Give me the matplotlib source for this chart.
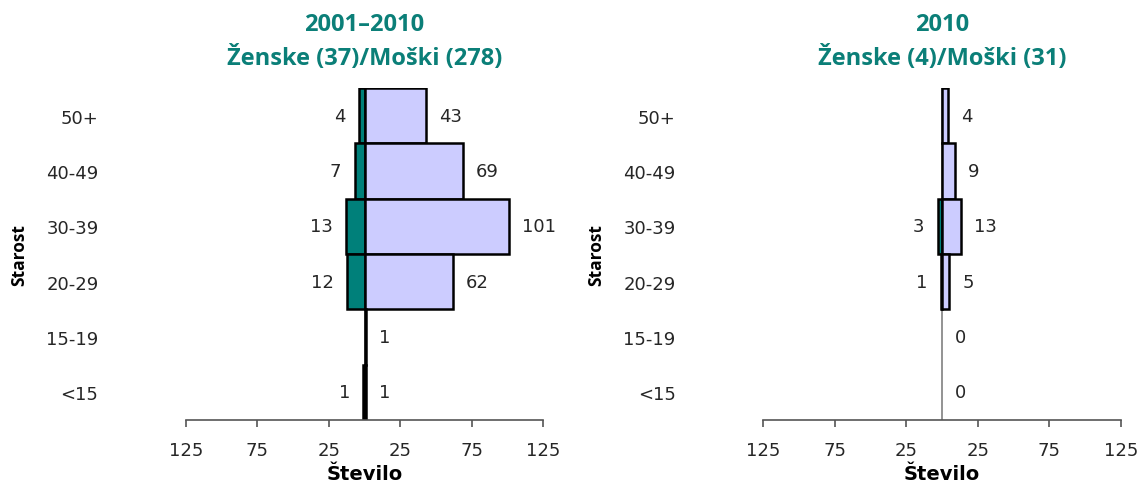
import matplotlib
matplotlib.use("Agg")
import matplotlib.pyplot as plt
import numpy as np

# Age groups, top to bottom
age_groups = ["50+", "40-49", "30-39", "20-29", "15-19", "<15"]

# 2001–2010 counts
women_2001_2010 = [4, 7, 13, 12, 0, 1]
men_2001_2010 = [43, 69, 101, 62, 1, 1]

# 2010 counts
women_2010 = [0, 0, 3, 1, 0, 0]
men_2010 = [4, 9, 13, 5, 0, 0]

titles = ["2001\u20132010\n\u017denske (37)/Mo\u0161ki (278)",
          "2010\n\u017denske (4)/Mo\u0161ki (31)"]

tick_values = [-125, -75, -25, 25, 75, 125]
tick_labels = ["125", "75", "25", "25", "75", "125"]

TEAL = "#00807A"
LAVENDER = "#CCCCFF"
TITLE_COLOR = "#0B7F78"
TEXT_COLOR = "#262626"

W, H = 1141, 485
fig = plt.figure(figsize=(W / 100, H / 100), dpi=100)

panels = [
    (186, 543, women_2001_2010, men_2001_2010, titles[0]),
    (763, 1121, women_2010, men_2010, titles[1]),
]

y = np.arange(len(age_groups))[::-1]
ax_top, ax_bottom = 89, 421
FS = 13

for i, (x0, x1, women, men, title) in enumerate(panels):
    ax = fig.add_axes([x0 / W, 1 - ax_bottom / H, (x1 - x0) / W, (ax_bottom - ax_top) / H])
    ax.set_xlim(-125, 125)
    ax.set_ylim(-0.5, len(age_groups) - 0.5)

    # centre line
    ax.axvline(0, color="#808080", lw=1.2, zorder=1)

    w = np.array(women)
    m = np.array(men)
    wm = w > 0
    mm = m > 0
    ax.barh(y[wm], -w[wm], height=1.0, color=TEAL, edgecolor="black", lw=1.8, zorder=2)
    ax.barh(y[mm], m[mm], height=1.0, color=LAVENDER, edgecolor="black", lw=1.8, zorder=2)

    for yi, wv, mv in zip(y, w, m):
        if wv > 0:
            ax.annotate(str(wv), (-wv, yi), xytext=(-9.5, 0), textcoords="offset points",
                        ha="right", va="center", fontsize=FS, color=TEXT_COLOR)
        ax.annotate(str(mv), (mv, yi), xytext=(9.5, 0), textcoords="offset points",
                    ha="left", va="center", fontsize=FS, color=TEXT_COLOR)

    ax.set_yticks(y)
    ax.set_yticklabels(age_groups, fontsize=FS, color=TEXT_COLOR)
    ax.tick_params(axis="y", length=0, pad=63)

    ax.set_xticks(tick_values)
    ax.set_xticklabels(tick_labels, fontsize=FS, color=TEXT_COLOR)
    ax.tick_params(axis="x", direction="out", length=5, width=1.2, color="#555555", pad=10)

    for side in ["top", "right", "left"]:
        ax.spines[side].set_visible(False)
    ax.spines["bottom"].set_color("#555555")
    ax.spines["bottom"].set_linewidth(1.2)

    ax.set_xlabel("\u0160tevilo", fontsize=14, fontweight="bold", color="black", labelpad=4)
    ax.set_ylabel("Starost", fontsize=12.5, fontweight="bold", family="Open Sans",
                  color="black", labelpad=13)

    ax.set_title(title, fontsize=17, fontweight="bold", family="Open Sans",
                 color=TITLE_COLOR, pad=17, linespacing=1.5)

fig.savefig("out.png", dpi=100, facecolor="white")
